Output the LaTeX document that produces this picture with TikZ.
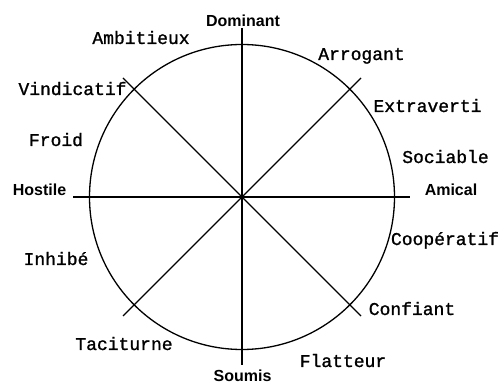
\documentclass[tikz,border=0pt]{standalone}
\usepackage{fontspec}
\newfontfamily\monofnt[FakeBold=1.2]{Liberation Mono}
\newfontfamily\boldsans{Liberation Sans}
\begin{document}
\begin{tikzpicture}[x=1pt,y=-1pt,
  axis/.style={line width=1.3pt,black},
  trait/.style={anchor=base,inner sep=0pt,font=\monofnt\fontsize{18}{18}\selectfont},
  pole/.style={anchor=base,inner sep=0pt,font=\boldsans\bfseries\fontsize{16}{16}\selectfont}]
\useasboundingbox (0,0) rectangle (499,385);
\fill[white] (0,0) rectangle (499,385);
\coordinate (c) at (242,197);
\draw[axis] (c) circle[radius=152.5pt];
\coordinate (n) at (242,28);
\coordinate (s) at (242,365);
\coordinate (w) at (73,197);
\coordinate (e) at (410,197);
\coordinate (nw) at (123,78);
\coordinate (se) at (361,316);
\coordinate (ne) at (361,78);
\coordinate (sw) at (123,316);
\draw[axis] (n) -- (s);
\draw[axis] (w) -- (e);
\draw[axis] (nw) -- (se);
\draw[axis] (ne) -- (sw);
\node[pole] (dom) at (243,27) {Dominant};
\node[pole] (sou) at (242.5,382) {Soumis};
\node[pole] (hos) at (39.5,196) {Hostile};
\node[pole] (ami) at (451,196) {Amical};
\node[trait] (amb) at (141,44) {Ambitieux};
\node[trait] (vin) at (72.5,95) {Vindicatif};
\node[trait] (fro) at (56,146) {Froid};
\node[trait] (arr) at (361.5,60) {Arrogant};
\node[trait] (ext) at (427.5,112) {Extraverti};
\node[trait] (soc) at (445.5,163) {Sociable};
\node[trait] (coo) at (445,245) {Coopératif};
\node[trait] (con) at (412,315) {Confiant};
\node[trait] (fla) at (343,367) {Flatteur};
\node[trait] (tac) at (124,350) {Taciturne};
\node[trait] (inh) at (56,265) {Inhibé};
\end{tikzpicture}
\end{document}
